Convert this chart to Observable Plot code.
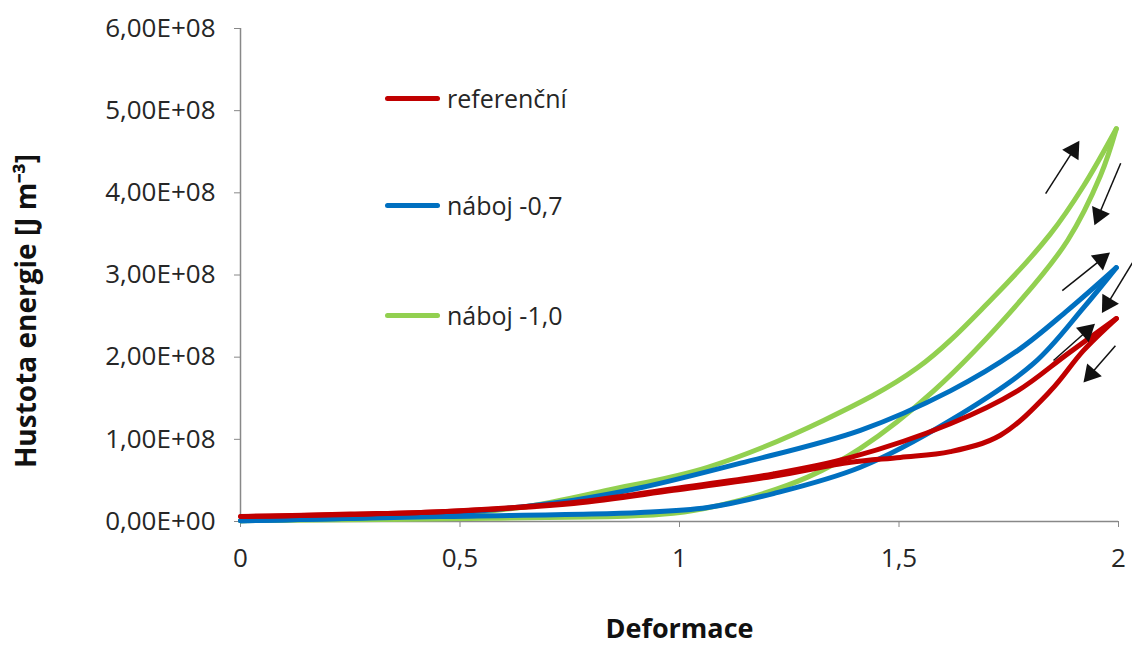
<!DOCTYPE html>
<html><head><meta charset="utf-8">
<script src="https://cdn.jsdelivr.net/npm/d3@7"></script>
<script src="https://cdn.jsdelivr.net/npm/@observablehq/plot@0.6"></script>
<style>
body{margin:0;background:#fff;font-family:"Open Sans",sans-serif;}
#wrap{position:relative;width:1132px;height:645px;overflow:hidden;}
.lg{position:absolute;left:385px;display:flex;align-items:center;font-size:25px;color:#262626;transform:translateY(-50%);}
.lg span.sw{display:inline-block;width:55px;height:5px;border-radius:3px;margin-right:7px;}
</style></head><body><div id="wrap"></div><script>
// Series
const seriesNames = ["referenční", "náboj -0,7", "náboj -1,0"];
const seriesColors = ["#C00000", "#0070C0", "#92D050"];
// Deformation (x) and energy density (y, in units of 1e8 J m^-3)
const refLoadX   = [0, 0.25, 0.456, 0.759, 0.986, 1.214, 1.39, 1.617, 1.77, 1.884, 1.995];
const refLoadY   = [0.06, 0.09, 0.12, 0.23, 0.40, 0.58, 0.78, 1.19, 1.59, 2.04, 2.47];
const refUnloadX = [1.995, 1.92, 1.845, 1.731, 1.617, 1.503, 1.39, 1.214, 0.986, 0.759, 0.456, 0];
const refUnloadY = [2.47, 2.08, 1.59, 1.05, 0.85, 0.78, 0.72, 0.55, 0.38, 0.22, 0.12, 0.06];
const blueLoadX   = [0, 0.25, 0.456, 0.759, 0.911, 1.139, 1.412, 1.617, 1.77, 1.884, 1.995];
const blueLoadY   = [0.01, 0.04, 0.09, 0.26, 0.41, 0.71, 1.11, 1.59, 2.08, 2.57, 3.09];
const blueUnloadX = [1.995, 1.92, 1.806, 1.617, 1.412, 1.214, 1.064, 0.911, 0.456, 0];
const blueUnloadY = [3.09, 2.60, 1.92, 1.23, 0.66, 0.34, 0.17, 0.11, 0.06, 0.01];
const greenLoadX   = [0, 0.25, 0.456, 0.65, 0.836, 1.064, 1.328, 1.542, 1.708, 1.845, 1.92, 1.995];
const greenLoadY   = [0.01, 0.04, 0.08, 0.18, 0.38, 0.66, 1.23, 1.87, 2.69, 3.50, 4.08, 4.78];
const greenUnloadX = [1.995, 1.959, 1.884, 1.777, 1.579, 1.412, 1.292, 1.139, 0.986, 0.569, 0];
const greenUnloadY = [4.78, 4.21, 3.42, 2.69, 1.59, 0.89, 0.54, 0.26, 0.10, 0.04, 0.01];
// Direction arrows (loading up / unloading down)
const arrowX1 = [1.834, 2.005, 1.872, 2.032, 1.852, 1.993];
const arrowY1 = [3.99, 4.36, 2.81, 3.15, 1.96, 2.14];
const arrowX2 = [1.907, 1.948, 1.975, 1.966, 1.941, 1.925];
const arrowY2 = [4.60, 3.64, 3.25, 2.57, 2.38, 1.72];
// Axes
const xTicks = [0, 0.5, 1, 1.5, 2];
const yTicks = [0, 1e8, 2e8, 3e8, 4e8, 5e8, 6e8];
const xTitle = "Deformace";
const yTitle = "Hustota energie [J m⁻³]";

const branches = [
  [0, "load", refLoadX, refLoadY], [0, "unload", refUnloadX, refUnloadY],
  [1, "load", blueLoadX, blueLoadY], [1, "unload", blueUnloadX, blueUnloadY],
  [2, "load", greenLoadX, greenLoadY], [2, "unload", greenUnloadX, greenUnloadY]
];
const rows = [];
for (const [s, b, xs, ys] of branches) xs.forEach((x, i) => rows.push({series: seriesNames[s], branch: seriesNames[s] + b, order: s, x, y: ys[i] * 1e8}));
// draw green, then blue, then red on top
rows.sort((a, b) => b.order - a.order);

const W = 1132, H = 645, mL = 240, mR = 14, mT = 28, mB = 124;
const xS = d3.scaleLinear([0, 2], [mL, W - mR]);
const yS = d3.scaleLinear([0, 6e8], [H - mB, mT]);
const arrows = arrowX1.map((x1, i) => {
  const y1 = arrowY1[i] * 1e8, x2 = arrowX2[i], y2 = arrowY2[i] * 1e8;
  const dx = xS(x2) - xS(x1), dy = yS(y2) - yS(y1), L = Math.hypot(dx, dy);
  const ux = dx / L, uy = dy / L;
  return {x1, y1, x2, y2,
    hx: xS.invert(xS(x2) - 8 * ux), hy: yS.invert(yS(y2) - 8 * uy),
    sx: xS.invert(xS(x2) - 11 * ux), sy: yS.invert(yS(y2) - 11 * uy),
    angle: Math.atan2(dx, -dy) * 180 / Math.PI};
});

const fmtY = d => d === 0 ? "0,00E+00" : (d / 1e8).toFixed(2).replace(".", ",") + "E+08";
const fmtX = d => String(d).replace(".", ",");

const plot = Plot.plot({
  width: W, height: H, marginLeft: mL, marginRight: mR, marginTop: mT, marginBottom: mB,
  style: {fontFamily: "'Open Sans', sans-serif", fontSize: "26px", color: "#262626", background: "#fff", overflow: "visible"},
  x: {domain: [0, 2]},
  y: {domain: [0, 6e8]},
  color: {domain: seriesNames, range: seriesColors},
  marks: [
    Plot.axisX({ticks: xTicks, tickFormat: fmtX, tickSize: 6, tickPadding: 21, stroke: "#888", label: null, fontSize: 26}),
    Plot.axisY({ticks: yTicks, tickFormat: fmtY, tickSize: 6, tickPadding: 19, stroke: "#888", label: null, fontSize: 26}),
    Plot.ruleX([0], {stroke: "#888", strokeWidth: 1.5}),
    Plot.ruleY([0], {stroke: "#888", strokeWidth: 1.5}),
    Plot.line(rows, {x: "x", y: "y", z: "branch", stroke: "series", strokeWidth: 5, curve: "catmull-rom", strokeLinecap: "round", strokeLinejoin: "round"}),
    Plot.link(arrows, {x1: "x1", y1: "y1", x2: "sx", y2: "sy", stroke: "#111", strokeWidth: 1.5, clip: false}),
    Plot.dot(arrows, {x: "hx", y: "hy", symbol: "triangle", r: 7.2, rotate: "angle", fill: "#111", stroke: "none", clip: false}),
    Plot.text([yTitle], {frameAnchor: "left", rotate: -90, dx: -213, dy: 36, textAnchor: "middle", lineAnchor: "middle", fontWeight: "bold", fontSize: 28, fill: "#111"}),
    Plot.text([xTitle], {frameAnchor: "bottom", dy: 108, textAnchor: "middle", lineAnchor: "middle", fontWeight: "bold", fontSize: 27, fill: "#111"})
  ]
});
const wrap = document.getElementById("wrap");
wrap.appendChild(plot);
const legendTop = [98, 205, 315];
seriesNames.forEach((n, i) => {
  const d = document.createElement("div");
  d.className = "lg";
  d.style.top = legendTop[i] + "px";
  d.innerHTML = `<span class="sw" style="background:${seriesColors[i]}"></span><span>${n}</span>`;
  wrap.appendChild(d);
});
</script></body></html>
